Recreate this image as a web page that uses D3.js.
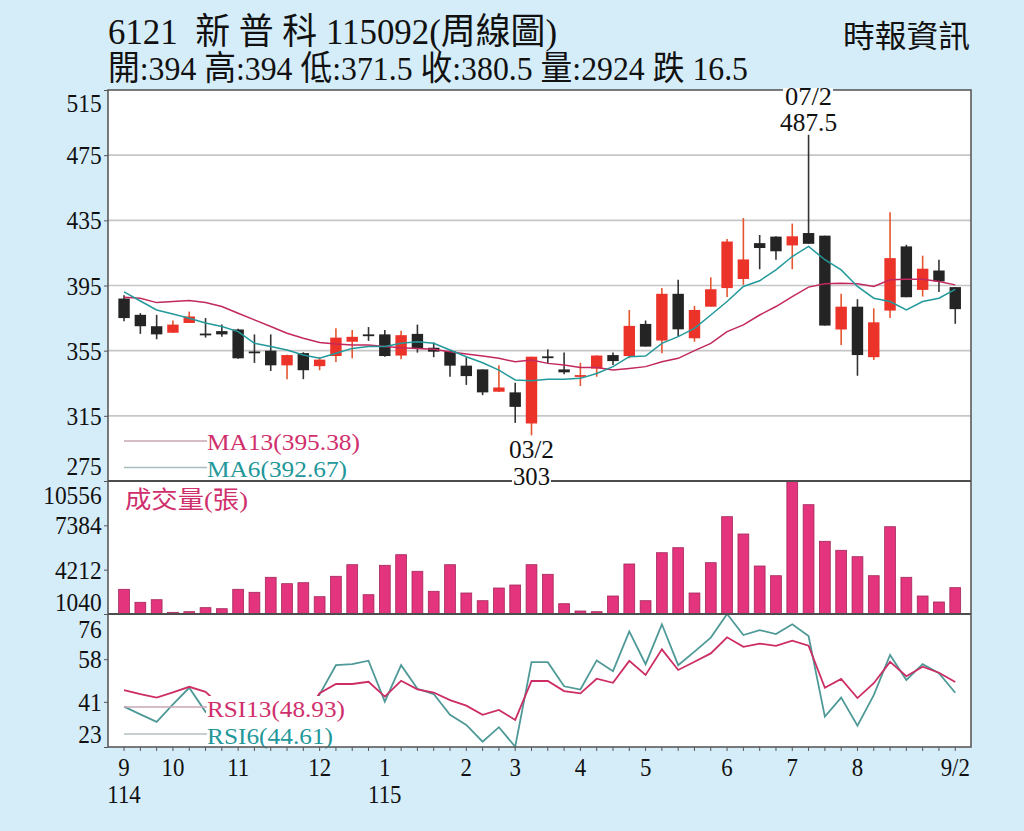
<!DOCTYPE html>
<html>
<head>
<meta charset="utf-8">
<script src="https://cdn.jsdelivr.net/npm/d3@7"></script>
<style>
  body { margin: 0; background: #d5edf9; }
  svg { display: block; }
</style>
</head>
<body>
<script>
// weekly candles, 114/9 .. 115/9/2 (index = week)
const open  = [387, 377, 370, 366, 372, 365.5, 367, 368, 354.5, 355, 346, 353.5, 345.5, 351.7, 360.5, 365, 365, 352, 365.3, 356.8,
               354.8, 345.8, 343.5, 329.8, 329.4, 310.3, 351.5, 343.5, 339, 344, 352.3, 351.7, 371.4, 361.2, 389.9, 362.6, 382, 393.4, 399, 421,
               425, 419.6, 427.2, 425.6, 368, 382, 351, 379.6, 419, 392.3, 404.2, 394];
const high  = [389, 378, 377, 373.5, 379, 375, 371, 368.5, 365, 365, 352.5, 354, 351, 368.7, 367.7, 369.5, 367.7, 367.3, 371, 360,
               355, 351, 343.5, 346, 335.3, 351.3, 355.8, 353.8, 347.6, 352.2, 353.8, 380, 373.5, 393.4, 398.5, 382.5, 400, 423.5, 436.4, 426,
               425.2, 433, 487.5, 425.6, 390, 386.6, 381, 440, 420, 413.3, 410.8, 394];
const low   = [373, 365.3, 362, 366, 372, 363, 363.5, 350, 347.5, 342.5, 337.5, 337.5, 343, 348, 350.3, 361, 351.3, 349.7, 353.8, 351,
               339, 334, 327.7, 329.8, 310.7, 303, 346.8, 340.6, 333.3, 339, 346.2, 350.3, 357.5, 353.4, 363.6, 360.5, 382, 388, 395.4, 405,
               410.8, 405, 420.6, 370.4, 358.5, 339.6, 349.3, 375, 387.8, 388.2, 391, 371.5];
const close = [375, 370, 365, 371, 376, 365, 365, 350.3, 354, 346, 352.3, 343, 349.5, 363, 363.5, 365, 351.7, 364.5, 356.4, 354.4,
               345.8, 339.4, 329.4, 332.4, 320.5, 351.3, 351.3, 341.7, 340, 352, 348.6, 370.2, 357.5, 389.9, 368.1, 380, 392.7, 422, 411, 418,
               416, 425.2, 420.6, 370.4, 382, 352.3, 372.4, 411.8, 387.8, 405.3, 397.5, 380.5];

const ma13 = [387.8, 387.2, 384.5, 385.2, 385.8, 384.5, 382.1, 378, 373.9, 369.8, 365.7, 362.6, 360, 359.1, 358.5, 358.5, 357.5, 356.8, 356.4, 355.8,
              354.4, 353, 351.7, 350.3, 348.2, 349.3, 347.2, 346.2, 344.7, 344.7, 343.1, 344.1, 345.2, 348.2, 350.3, 355, 359.5, 366.7, 370.8, 376.9,
              382.1, 388.2, 394, 396, 396.4, 396, 394.4, 398.5, 398.9, 398.9, 397.5, 395.38];
const ma6  = [391.1, 385.5, 380, 377.5, 374.9, 372, 369.8, 366.7, 359.5, 357.5, 355.4, 352.3, 350.3, 353.4, 356.4, 357.5, 357.5, 359.5, 360.5, 359.5,
              355.4, 351.3, 347.6, 343.1, 337, 336.5, 337.4, 337.4, 338, 341, 345.2, 351.3, 351.7, 359.5, 363.6, 368.7, 376.9, 385.2, 394.4, 397.9,
              404.6, 412.8, 419, 410.8, 404.6, 394.4, 387.2, 385.2, 380, 385.2, 387.2, 392.67];

const volume = [2807, 1877, 2063, 1160, 1205, 1493, 1420, 2807, 2592, 3666, 3210, 3281, 2278, 3737, 4568, 2421, 4525, 5283, 4095, 2664,
                4568, 2543, 1992, 2900, 3115, 4568, 3880, 1777, 1255, 1205, 2328, 4618, 1992, 5426, 5784, 2543, 4711, 8002, 6764, 4474,
                3780, 10556, 8861, 6242, 5598, 5140, 3780, 7286, 3666, 2328, 1899, 2924];

const rsi13 = [45.7, 44.1, 42.7, 44.8, 47.0, 45.0, 39, 37, 38, 36, 37, 35, 44.4, 48.1, 48.1, 49.0, 43.1, 49.4, 46.0, 44.7,
               41.7, 39.5, 35.8, 37.8, 33.8, 49.3, 49.3, 45.3, 44.4, 50.2, 48.6, 57.3, 51.7, 61.9, 53.7, 57.0, 60.3, 66.7, 62.9, 64.2,
               63.3, 65.4, 63.4, 46.6, 50.1, 42.5, 48.4, 56.9, 51.2, 55.0, 52.6, 48.93];
const rsi6  = [39.1, 36, 33, 40, 46.6, 37, 35, 27, 30, 26, 33, 28, 44, 55.6, 56.0, 57.4, 41.1, 55.6, 46.2, 44.1,
               35.8, 31.8, 25.1, 30.9, 23.1, 56.8, 56.8, 47.2, 45.9, 57.5, 53.2, 69.1, 56.0, 71.9, 55.6, 61.0, 66.6, 76, 67.6, 69.6,
               68.0, 71.9, 67.2, 35.1, 42.7, 31.5, 43.7, 59.7, 49.7, 56.0, 52.4, 44.61];

const priceTicks = [515, 475, 435, 395, 355, 315, 275];
const volTicks = [10556, 7384, 4212, 1040];
const rsiTicks = [76, 58, 41, 23];
// month labels: week index, label, year under it
const monthTicks = [[0, "9", "114"], [3, "10"], [7, "11"], [12, "12"], [16, "1", "115"], [21, "2"], [24, "3"],
                    [28, "4"], [32, "5"], [37, "6"], [41, "7"], [45, "8"], [51, "9/2"]];

const FONT = '"Liberation Serif", "Noto Sans CJK TC", serif';
const RED = "#ec3329", BLACK = "#242424";

const svg = d3.select("body").append("svg")
    .attr("width", 1024)
    .attr("height", 831)
    .style("font-family", FONT);

const plotLeft = 108, plotRight = 971, plotTop = 90, priceBottom = 481, volBottom = 614, plotBottom = 747;

const x = d3.scaleBand()
    .domain(d3.range(open.length))
    .range([115.9, 963.4])
    .paddingInner(0.3)
    .paddingOuter(0.15);
const cx = i => x(i) + x.bandwidth() / 2;
const yPrice = d3.scaleLinear().domain([275, 515]).range([priceBottom, plotTop]);
const yVol = d3.scaleLinear().domain([1040, 10556]).range([volBottom, priceBottom]);
const yRsi = d3.scaleLinear().domain([23, 76]).range([plotBottom, volBottom]);

// titles
function fitText(str, tx, ty, size, len, anchor, color) {
    return svg.append("text")
        .attr("x", tx)
        .attr("y", ty)
        .attr("font-size", size)
        .attr("text-anchor", anchor || "start")
        .attr("textLength", len)
        .attr("lengthAdjust", "spacingAndGlyphs")
        .attr("fill", color || "#111")
        .style("white-space", "pre")
        .text(str);
}
fitText("6121  新 普 科 115092(周線圖)", 108, 44, 36, 449);
fitText("開:394 高:394 低:371.5 收:380.5 量:2924 跌 16.5", 108, 80, 34, 640);
fitText("時報資訊", 843, 47, 31, 127);

// plot background
svg.append("rect")
    .attr("x", plotLeft).attr("y", plotTop)
    .attr("width", plotRight - plotLeft).attr("height", plotBottom - plotTop)
    .attr("fill", "#fff");

// price grid
svg.append("g")
    .selectAll("line")
    .data(priceTicks.slice(1, -1))
    .join("line")
    .attr("x1", plotLeft).attr("x2", plotRight)
    .attr("y1", d => yPrice(d)).attr("y2", d => yPrice(d))
    .attr("stroke", "#c6c6c6")
    .attr("stroke-width", 1.6);

// volume bars
svg.append("g")
    .selectAll("rect")
    .data(volume)
    .join("rect")
    .attr("x", (d, i) => x(i) + 0.3)
    .attr("y", d => yVol(d))
    .attr("width", x.bandwidth() - 0.6)
    .attr("height", d => yVol(1040) - yVol(d))
    .attr("fill", "#e3347d")
    .attr("stroke", "#a3275a")
    .attr("stroke-width", 0.8);

// candles
const candles = svg.append("g");
candles.selectAll("line")
    .data(d3.range(open.length))
    .join("line")
    .attr("x1", i => cx(i)).attr("x2", i => cx(i))
    .attr("y1", i => yPrice(high[i]))
    .attr("y2", i => yPrice(low[i]))
    .attr("stroke", i => close[i] > open[i] ? "#e4562f" : "#333")
    .attr("stroke-width", 1.6);
candles.selectAll("rect")
    .data(d3.range(open.length))
    .join("rect")
    .attr("x", i => x(i))
    .attr("width", x.bandwidth())
    .attr("y", i => yPrice(Math.max(open[i], close[i])))
    .attr("height", i => Math.max(1.8, Math.abs(yPrice(open[i]) - yPrice(close[i]))))
    .attr("fill", i => close[i] > open[i] ? RED : BLACK);

// moving averages
const priceLine = d3.line().x((d, i) => cx(i)).y(d => yPrice(d));
svg.append("path").datum(ma13)
    .attr("d", priceLine).attr("fill", "none")
    .attr("stroke", "#c2285f").attr("stroke-width", 1.5);
svg.append("path").datum(ma6)
    .attr("d", priceLine).attr("fill", "none")
    .attr("stroke", "#24999b").attr("stroke-width", 1.5);

// rsi
const rsiLine = d3.line().x((d, i) => cx(i)).y(d => yRsi(d));
svg.append("path").datum(rsi6)
    .attr("d", rsiLine).attr("fill", "none")
    .attr("stroke", "#4f9a98").attr("stroke-width", 1.8);
svg.append("path").datum(rsi13)
    .attr("d", rsiLine).attr("fill", "none")
    .attr("stroke", "#cc2d64").attr("stroke-width", 1.8);

// legends
function legend(label, lx, ly, lineY, len, color, lineColor) {
    svg.append("line")
        .attr("x1", 124).attr("x2", lx)
        .attr("y1", lineY).attr("y2", lineY)
        .attr("stroke", lineColor).attr("stroke-width", 1.5);
    fitText(label, lx, ly, 24, len, "start", color);
}
svg.append("rect")
    .attr("x", 206).attr("y", 696).attr("width", 142).attr("height", 50)
    .attr("fill", "#fff");
legend("MA13(395.38)", 207, 450, 441, 153, "#cf2f6c", "#c9a6b5");
legend("MA6(392.67)", 207, 477, 467.5, 140, "#23979a", "#a9bcbd");
legend("RSI13(48.93)", 207, 717, 707, 138, "#cf2f6c", "#c9a6b5");
legend("RSI6(44.61)", 207, 744, 734, 126, "#23979a", "#b3c1c1");
fitText("成交量(張)", 125, 508, 24, 123, "start", "#cf2f6c");

// panel borders
svg.append("rect")
    .attr("x", plotLeft).attr("y", plotTop)
    .attr("width", plotRight - plotLeft).attr("height", plotBottom - plotTop)
    .attr("fill", "none")
    .attr("stroke", "#5a5a5a")
    .attr("stroke-width", 1.6);
[priceBottom, volBottom].forEach(py =>
    svg.append("line")
        .attr("x1", plotLeft).attr("x2", plotRight)
        .attr("y1", py).attr("y2", py)
        .attr("stroke", "#4d4d4d")
        .attr("stroke-width", 2)
);

// high / low notes
svg.append("rect").attr("x", 512).attr("y", 468).attr("width", 39).attr("height", 19).attr("fill", "#fff");
svg.append("rect").attr("x", 783).attr("y", 88).attr("width", 50).attr("height", 18).attr("fill", "#fff");
fitText("03/2", cx(25), 458, 25, 45, "middle");
fitText(String(low[25]), cx(25), 485, 25, 37, "middle");
fitText("07/2", cx(42), 105, 25, 47, "middle");
fitText(String(high[42]), cx(42), 131, 25, 57, "middle");

// y axes
function yAxis(scale, ticks, shifts) {
    const g = svg.append("g")
        .attr("transform", `translate(${plotLeft}, 0)`)
        .call(d3.axisLeft(scale).tickValues(ticks).tickSize(4).tickPadding(3).tickFormat(d => String(d)));
    g.select(".domain").remove();
    g.selectAll(".tick line").attr("stroke", "#555");
    g.selectAll("text")
        .attr("font-family", FONT)
        .attr("font-size", 26)
        .attr("fill", "#111")
        .attr("dy", "0.33em")
        .attr("transform", (d, i) => `translate(0, ${shifts[i]}) scale(0.9, 1)`);
    return g;
}
yAxis(yPrice, priceTicks, [13, 0, 0, 0, 0, 0, -15]);
yAxis(yVol, volTicks, [14, 0, 0, -12]);
yAxis(yRsi, rsiTicks, [15, 0, 0, -13]);

// x axis
const xg = svg.append("g")
    .attr("transform", `translate(0, ${plotBottom})`)
    .call(d3.axisBottom(x).tickSize(4).tickFormat(""));
xg.select(".domain").remove();
xg.selectAll(".tick line").attr("stroke", "#555");

const xLabels = svg.append("g")
    .attr("font-size", 26)
    .attr("fill", "#111");
monthTicks.forEach(m => {
    xLabels.append("text")
        .attr("text-anchor", "middle")
        .attr("transform", `translate(${cx(m[0])}, 776) scale(0.88, 1)`)
        .text(m[1]);
    if (m[2]) {
        xLabels.append("text")
            .attr("text-anchor", "middle")
            .attr("transform", `translate(${cx(m[0])}, 803) scale(0.88, 1)`)
            .text(m[2]);
    }
});
</script>
</body>
</html>
